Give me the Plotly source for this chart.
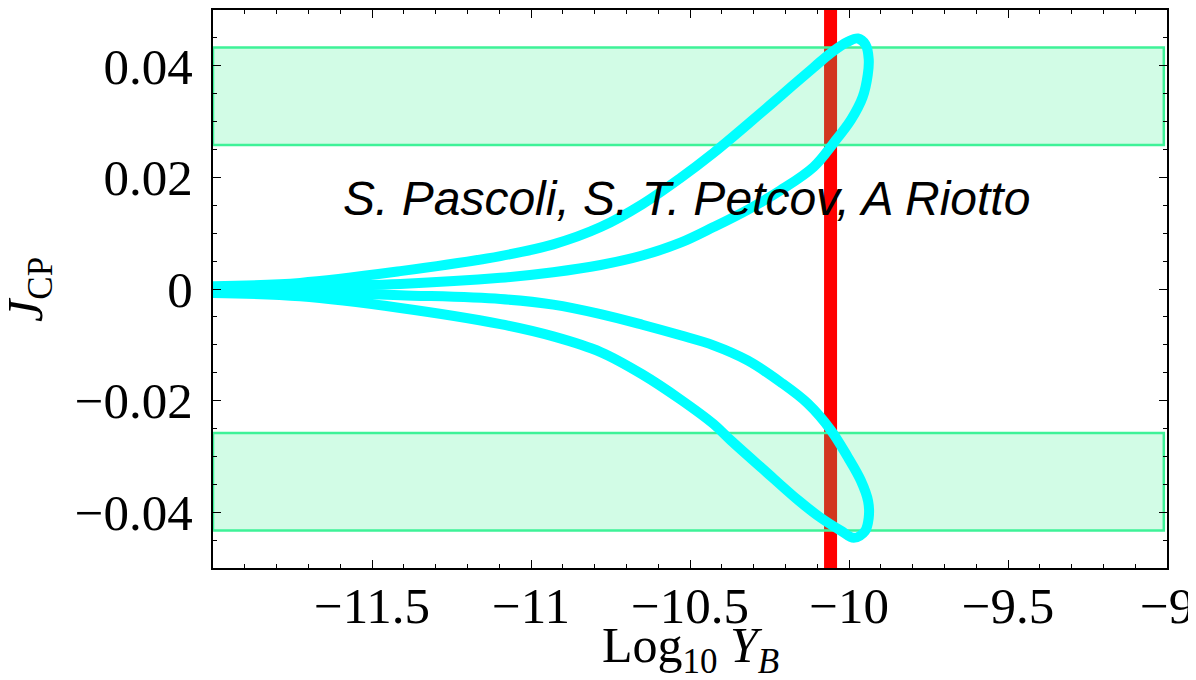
import plotly.graph_objects as go

# ---- data ----
upper_x = [-12.0, -11.726, -11.411, -11.096, -10.930, -10.781, -10.650, -10.530, -10.426,
           -10.319, -10.215, -10.111, -10.057, -10.004, -9.972, -9.948, -9.938, -9.941,
           -9.957, -9.994, -10.048, -10.111, -10.215, -10.319, -10.426, -10.530, -10.650,
           -10.781, -10.930, -11.096, -11.411, -11.726, -12.0]
upper_y = [0.0005, 0.0011, 0.0032, 0.0059, 0.0080, 0.0111, 0.0152, 0.0199, 0.0244,
           0.0295, 0.0346, 0.0397, 0.0423, 0.0443, 0.0449, 0.0438, 0.0412, 0.0384,
           0.0344, 0.0303, 0.0262, 0.0219, 0.0177, 0.0142, 0.0111, 0.0083, 0.0060,
           0.0043, 0.0030, 0.0020, 0.0009, 0.0004, 0.0002]

lower_x = [-12.0, -11.726, -11.411, -11.096, -10.930, -10.781, -10.650, -10.530, -10.426,
           -10.319, -10.215, -10.130, -10.057, -10.004, -9.963, -9.940, -9.938, -9.950,
           -9.985, -10.026, -10.089, -10.161, -10.268, -10.372, -10.426, -10.530, -10.650,
           -10.781, -10.930, -11.096, -11.411, -11.726, -12.0]
lower_y = [-0.0002, -0.0005, -0.0011, -0.0018, -0.0028, -0.0045, -0.0064, -0.0083, -0.0101,
           -0.0128, -0.0167, -0.0205, -0.0253, -0.0301, -0.0343, -0.0380, -0.0410, -0.0434,
           -0.0446, -0.0433, -0.0410, -0.0378, -0.0324, -0.0271, -0.0242, -0.0198, -0.0153,
           -0.0113, -0.0085, -0.0063, -0.0034, -0.0013, -0.0007]

band_x = [-12.0, -9.01]
band_upper = [0.0258, 0.0433]
band_lower = [-0.0433, -0.0258]
red_x = -10.058

x_range = [-12.0, -9.0]
y_range = [-0.05, 0.05]
x_ticks = [-11.5, -11.0, -10.5, -10.0, -9.5, -9.0]
y_ticks = [-0.04, -0.02, 0.0, 0.02, 0.04]
y_ticktext = ["\u22120.04", "\u22120.02", "0", "0.02", "0.04"]
x_ticktext = ["\u221211.5", "\u221211", "\u221210.5", "\u221210", "\u22129.5", "\u22129"]

annot_text = "S. Pascoli, S. T. Petcov, A Riotto"
annot_pos = (-10.51, 0.0162)
x_title = "Log<sub>10</sub> <i>Y</i><sub><i>B</i></sub>"
y_title = "<i>J</i><sub>CP</sub>"

fig = go.Figure()

# red vertical line
fig.add_trace(go.Scatter(x=[red_x, red_x], y=y_range, mode="lines",
                         line=dict(color="rgb(255,0,0)", width=13), hoverinfo="skip",
                         showlegend=False))

# green bands
for lo, hi in (band_upper, band_lower):
    fig.add_trace(go.Scatter(
        x=[band_x[0], band_x[1], band_x[1], band_x[0], band_x[0]],
        y=[lo, lo, hi, hi, lo], mode="lines", fill="toself",
        fillcolor="rgba(50,240,140,0.22)",
        line=dict(color="rgb(62,242,152)", width=2.5), hoverinfo="skip",
        showlegend=False))

# cyan curves
for xs, ys in ((upper_x, upper_y), (lower_x, lower_y)):
    fig.add_trace(go.Scatter(x=xs, y=ys, mode="lines",
                             line=dict(color="rgb(0,255,255)", width=10, shape="spline",
                                       smoothing=1.0),
                             hoverinfo="skip", showlegend=False))

fig.add_annotation(x=annot_pos[0], y=annot_pos[1], text="<i>" + annot_text + "</i>",
                   showarrow=False, xanchor="center", yanchor="middle",
                   font=dict(family="Liberation Sans, Arial", size=48, color="black"))

tickfont = dict(family="Liberation Serif, Times New Roman", size=51, color="black")
titlefont = dict(family="Liberation Serif, Times New Roman", size=50, color="black")

# axis titles as annotations (placed relative to the plot area)
fig.add_annotation(xref="paper", yref="paper", x=0.5, y=-0.145, text=x_title,
                   showarrow=False, xanchor="center", yanchor="middle", font=titlefont)
fig.add_annotation(xref="paper", yref="paper", x=-0.193, y=0.5, text=y_title,
                   showarrow=False, xanchor="center", yanchor="middle", textangle=-90,
                   font=titlefont)

fig.update_xaxes(range=x_range, tickmode="array", tickvals=x_ticks, ticktext=x_ticktext,
                 ticks="inside", ticklen=8, tickwidth=1.2, tickcolor="black",
                 ticklabelstandoff=-8,
                 minor=dict(tickmode="linear", tick0=-12, dtick=0.1, ticks="inside",
                            ticklen=4, tickwidth=1, tickcolor="black"),
                 showline=True, linecolor="black", linewidth=2, mirror="allticks",
                 showgrid=False, zeroline=False, tickfont=tickfont)
fig.update_yaxes(range=y_range, tickmode="array", tickvals=y_ticks, ticktext=y_ticktext,
                 ticks="inside", ticklen=8, tickwidth=1.2, tickcolor="black",
                 ticklabelstandoff=8,
                 minor=dict(tickmode="linear", tick0=-0.05, dtick=0.005, ticks="inside",
                            ticklen=4, tickwidth=1, tickcolor="black"),
                 showline=True, linecolor="black", linewidth=2, mirror="allticks",
                 showgrid=False, zeroline=False, tickfont=tickfont)

fig.update_layout(width=1196, height=680, plot_bgcolor="white", paper_bgcolor="white",
                  margin=dict(l=205, r=37, t=2, b=120, autoexpand=False),
                  showlegend=False)

fig.write_html("out.html")
